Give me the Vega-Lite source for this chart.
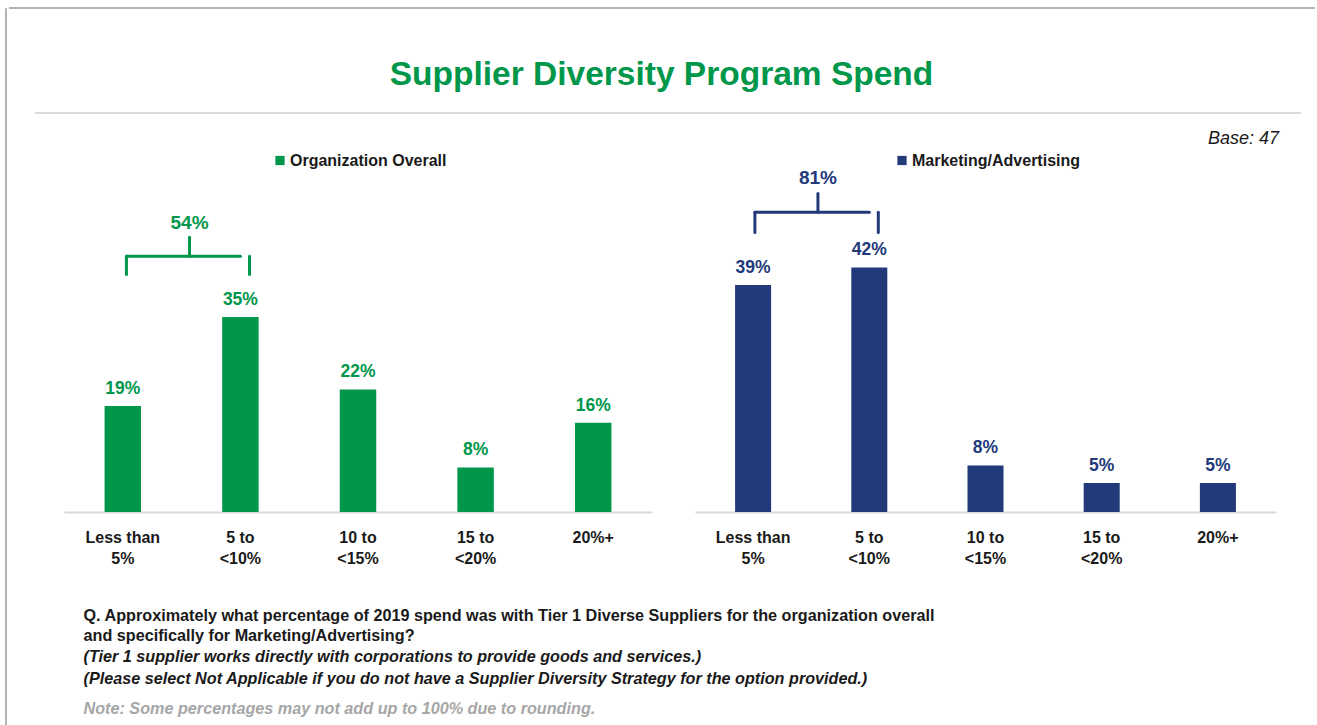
{
  "$schema": "https://vega.github.io/schema/vega-lite/v6.json",
  "usermeta": {"embedOptions": {"actions": false}},
  "padding": {"left": 4, "top": 6, "right": 0, "bottom": 0},
  "background": "white",
  "config": {
    "font": "Liberation Sans",
    "view": {"stroke": null},
    "axisX": {
      "title": null, "ticks": false, "domainColor": "#d9d9d9", "domainWidth": 2,
      "labelAngle": 0, "labelFontSize": 16, "labelFontWeight": "bold", "labelColor": "#1a1a1a",
      "labelPadding": 17, "labelLineHeight": 21, "labelLimit": 0,
      "labelExpr": "lastindexof(datum.label, ' ') > 0 ? [substring(datum.label, 0, lastindexof(datum.label, ' ')), substring(datum.label, lastindexof(datum.label, ' ') + 1)] : datum.label"
    },
    "legend": {"orient": "none", "title": null, "symbolType": "square", "symbolSize": 85, "symbolStrokeWidth": 0,
      "labelFontSize": 16, "labelFontWeight": "bold", "labelColor": "#1a1a1a", "labelOffset": 2, "padding": 3, "labelLimit": 0}
  },
  "datasets": {
    "org": [
      {"spend": "Less than 5%", "share": 0.19},
      {"spend": "5 to <10%", "share": 0.35},
      {"spend": "10 to <15%", "share": 0.22},
      {"spend": "15 to <20%", "share": 0.08},
      {"spend": "20%+", "share": 0.16}
    ],
    "mkt": [
      {"spend": "Less than 5%", "share": 0.39},
      {"spend": "5 to <10%", "share": 0.42},
      {"spend": "10 to <15%", "share": 0.08},
      {"spend": "15 to <20%", "share": 0.05},
      {"spend": "20%+", "share": 0.05}
    ],
    "orgBracket": [{"from": "Less than 5%", "to": "5 to <10%", "total": 0.54}],
    "mktBracket": [{"from": "Less than 5%", "to": "5 to <10%", "total": 0.81}],
    "blank": [{}]
  },
  "hconcat": [
    {
      "width": 1, "height": 717,
      "view": {"stroke": "#b3b3b3", "strokeWidth": 1},
      "data": {"name": "blank"},
      "mark": {"type": "rule", "opacity": 0},
      "encoding": {}
    },
    {
      "vconcat": [
        {
          "width": 1308, "height": 1,
          "view": {"stroke": "#b3b3b3", "strokeWidth": 2, "strokeDash": [1306, 5000]},
          "data": {"name": "blank"},
          "mark": {"type": "rule", "opacity": 0},
          "encoding": {},
          "title": {
            "text": "Supplier Diversity Program Spend", "orient": "bottom", "offset": 50, "dx": -1.5,
            "fontSize": 33.5, "fontWeight": "bold", "color": "#00974A", "anchor": "middle"
          }
        },
        {
          "width": 1292, "height": 18,
          "view": {"stroke": "#d9d9d9", "strokeWidth": 2, "strokeDash": [0, 1310, 1266, 5000]},
          "data": {"name": "blank"},
          "mark": {"type": "rule", "opacity": 0},
          "encoding": {},
          "title": {"text": "Base: 47", "orient": "bottom", "anchor": "end", "dx": -22, "offset": 17,
            "fontSize": 18, "fontStyle": "italic", "fontWeight": "normal", "color": "#1a1a1a"}
        },
        {
          "hconcat": [
            {
              "width": 12, "height": 340,
              "data": {"name": "blank"},
              "mark": {"type": "rule", "opacity": 0},
              "encoding": {}
            },
            {
              "width": 588, "height": 340,
              "data": {"name": "org"},
              "encoding": {
                "x": {"field": "spend", "type": "nominal", "sort": null,
                  "scale": {"domain": ["Less than 5%", "5 to <10%", "10 to <15%", "15 to <20%", "20%+"], "paddingInner": 0.69, "paddingOuter": 0.345}}
              },
              "layer": [
                {
                  "mark": {"type": "bar"},
                  "encoding": {
                    "y": {"field": "share", "type": "quantitative", "scale": {"domain": [0, 0.61], "nice": false}, "axis": null},
                    "color": {"datum": "Organization Overall", "type": "nominal", "scale": {"range": ["#00974A"]},
                      "legend": {"legendX": 205, "legendY": -22.5}}
                  }
                },
                {
                  "mark": {"type": "text", "dy": -12, "baseline": "alphabetic", "fontSize": 17.5, "fontWeight": "bold", "color": "#00974A"},
                  "encoding": {
                    "y": {"field": "share", "type": "quantitative"},
                    "text": {"field": "share", "type": "quantitative", "format": ".0%"}
                  }
                },
                {
                  "data": {"name": "orgBracket"},
                  "layer": [
                    {"mark": {"type": "rule", "color": "#00974A", "strokeWidth": 3, "strokeCap": "round"},
                     "encoding": {"x": {"field": "from", "type": "nominal", "bandPosition": 0.6}, "x2": {"field": "to"}, "y": {"datum": 0.459}}},
                    {"mark": {"type": "rule", "color": "#00974A", "strokeWidth": 3, "strokeCap": "round"},
                     "encoding": {"x": {"field": "from", "type": "nominal", "bandPosition": 0.6}, "y": {"datum": 0.459}, "y2": {"datum": 0.426}}},
                    {"mark": {"type": "rule", "color": "#00974A", "strokeWidth": 3, "strokeCap": "round"},
                     "encoding": {"x": {"field": "to", "type": "nominal", "bandPosition": 0.75}, "y": {"datum": 0.459}, "y2": {"datum": 0.426}}},
                    {"mark": {"type": "rule", "color": "#00974A", "strokeWidth": 3, "strokeCap": "round"},
                     "encoding": {"x": {"field": "from", "type": "nominal", "bandPosition": 2.33}, "y": {"datum": 0.459}, "y2": {"datum": 0.493}}},
                    {"mark": {"type": "text", "baseline": "middle", "fontSize": 19, "fontWeight": "bold", "color": "#00974A"},
                     "encoding": {"x": {"field": "from", "type": "nominal", "bandPosition": 2.33}, "y": {"datum": 0.518},
                       "text": {"field": "total", "type": "quantitative", "format": ".0%"}}}
                  ]
                }
              ]
            },
            {
              "width": 581, "height": 340,
              "data": {"name": "mkt"},
              "encoding": {
                "x": {"field": "spend", "type": "nominal", "sort": null,
                  "scale": {"domain": ["Less than 5%", "5 to <10%", "10 to <15%", "15 to <20%", "20%+"], "paddingInner": 0.69, "paddingOuter": 0.345}}
              },
              "layer": [
                {
                  "mark": {"type": "bar"},
                  "encoding": {
                    "y": {"field": "share", "type": "quantitative", "scale": {"domain": [0, 0.584], "nice": false}, "axis": null},
                    "color": {"datum": "Marketing/Advertising", "type": "nominal", "scale": {"range": ["#223A7A"]},
                      "legend": {"legendX": 196, "legendY": -22.5}}
                  }
                },
                {
                  "mark": {"type": "text", "dy": -12, "baseline": "alphabetic", "fontSize": 17.5, "fontWeight": "bold", "color": "#223A7A"},
                  "encoding": {
                    "y": {"field": "share", "type": "quantitative"},
                    "text": {"field": "share", "type": "quantitative", "format": ".0%"}
                  }
                },
                {
                  "data": {"name": "mktBracket"},
                  "layer": [
                    {"mark": {"type": "rule", "color": "#223A7A", "strokeWidth": 3, "strokeCap": "round"},
                     "encoding": {"x": {"field": "from", "type": "nominal", "bandPosition": 0.55}, "x2": {"field": "to"}, "y": {"datum": 0.515}}},
                    {"mark": {"type": "rule", "color": "#223A7A", "strokeWidth": 3, "strokeCap": "round"},
                     "encoding": {"x": {"field": "from", "type": "nominal", "bandPosition": 0.55}, "y": {"datum": 0.515}, "y2": {"datum": 0.48}}},
                    {"mark": {"type": "rule", "color": "#223A7A", "strokeWidth": 3, "strokeCap": "round"},
                     "encoding": {"x": {"field": "to", "type": "nominal", "bandPosition": 0.75}, "y": {"datum": 0.515}, "y2": {"datum": 0.48}}},
                    {"mark": {"type": "rule", "color": "#223A7A", "strokeWidth": 3, "strokeCap": "round"},
                     "encoding": {"x": {"field": "from", "type": "nominal", "bandPosition": 2.3}, "y": {"datum": 0.515}, "y2": {"datum": 0.547}}},
                    {"mark": {"type": "text", "baseline": "middle", "fontSize": 19, "fontWeight": "bold", "color": "#223A7A"},
                     "encoding": {"x": {"field": "from", "type": "nominal", "bandPosition": 2.3}, "y": {"datum": 0.573},
                       "text": {"field": "total", "type": "quantitative", "format": ".0%"}}}
                  ]
                }
              ]
            }
          ],
          "spacing": 43,
          "resolve": {"scale": {"color": "independent"}, "legend": {"color": "independent"}}
        },
        {
          "width": 1282, "height": 1,
          "data": {"name": "blank"},
          "mark": {"type": "rule", "opacity": 0},
          "encoding": {},
          "title": {
            "text": ["Q. Approximately what percentage of 2019 spend was with Tier 1 Diverse Suppliers for the organization overall", "and specifically for Marketing/Advertising?"],
            "subtitle": ["(Tier 1 supplier works directly with corporations to provide goods and services.)", "(Please select Not Applicable if you do not have a Supplier Diversity Strategy for the option provided.)"],
            "orient": "bottom", "anchor": "start", "dx": 75, "offset": 39.5,
            "fontSize": 16.2, "fontWeight": "bold", "color": "#1a1a1a", "lineHeight": 20,
            "subtitleFontSize": 16.2, "subtitleFontWeight": "bold", "subtitleFontStyle": "italic", "subtitleColor": "#1a1a1a",
            "subtitleLineHeight": 22, "subtitlePadding": 5
          }
        },
        {
          "width": 1282, "height": 1,
          "data": {"name": "blank"},
          "mark": {"type": "rule", "opacity": 0},
          "encoding": {},
          "title": {
            "text": "Note: Some percentages may not add up to 100% due to rounding.",
            "orient": "bottom", "anchor": "start", "dx": 75, "offset": 12,
            "fontSize": 16.2, "fontWeight": "bold", "fontStyle": "italic", "color": "#a6a6a6"
          }
        }
      ],
      "spacing": 0
    }
  ],
  "spacing": 0
}
